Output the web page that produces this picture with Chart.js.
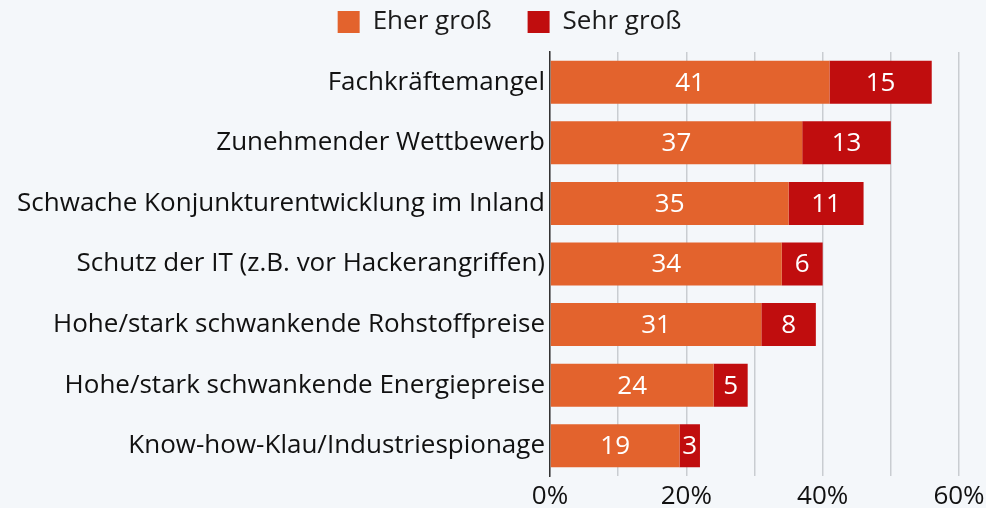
<!DOCTYPE html>
<html>
<head>
<meta charset="utf-8">
<script src="https://cdn.jsdelivr.net/npm/chart.js@4.4.1/dist/chart.umd.min.js"></script>
<style>
  html, body { margin: 0; padding: 0; background: #f4f7fa; }
  #wrap { width: 986px; height: 508px; }
</style>
</head>
<body>
<div id="wrap"><canvas id="chart"></canvas></div>
<script>
// Data
const categories = [
    'Fachkräftemangel',
    'Zunehmender Wettbewerb',
    'Schwache Konjunkturentwicklung im Inland',
    'Schutz der IT (z.B. vor Hackerangriffen)',
    'Hohe/stark schwankende Rohstoffpreise',
    'Hohe/stark schwankende Energiepreise',
    'Know-how-Klau/Industriespionage'
];
const eherGross = [41, 37, 35, 34, 31, 24, 19];
const sehrGross = [15, 13, 11, 6, 8, 5, 3];
const seriesNames = ['Eher groß', 'Sehr groß'];
const tickLabels = ['0%', '', '20%', '', '40%', '', '60%'];

const FONT = "'Open Sans', sans-serif";
const FONT_SIZE = 26;

// white value labels in the middle of each bar segment
const barLabels = {
    id: 'barLabels',
    afterDatasetsDraw(chart) {
        const ctx = chart.ctx;
        ctx.save();
        ctx.fillStyle = '#ffffff';
        ctx.font = FONT_SIZE + 'px ' + FONT;
        ctx.textAlign = 'center';
        ctx.textBaseline = 'middle';
        chart.data.datasets.forEach((ds, i) => {
            const meta = chart.getDatasetMeta(i);
            meta.data.forEach((bar, j) => {
                const x = (bar.x + bar.base) / 2;
                ctx.fillText(String(ds.data[j]), x, bar.y + 1);
            });
        });
        ctx.restore();
    }
};

// the legend gets wide spacing between items but a fixed, short height,
// and sits a bit right of the plain centre
const legendTweak = {
    id: 'legendTweak',
    afterInit(chart) {
        const legend = chart.legend;
        const fit = legend.fit;
        legend.fit = function () {
            fit.call(this);
            this.height = 79;
        };
        const draw = legend.draw;
        legend.draw = function () {
            this.ctx.save();
            this.ctx.translate(30, 0);
            draw.call(this);
            this.ctx.restore();
        };
    }
};

const ctx = document.getElementById('chart').getContext('2d');
new Chart(ctx, {
    type: 'bar',
    data: {
        labels: categories,
        datasets: [{
            label: seriesNames[0],
            data: eherGross,
            backgroundColor: '#e3632d'
        }, {
            label: seriesNames[1],
            data: sehrGross,
            backgroundColor: '#c00d0e'
        }]
    },
    options: {
        indexAxis: 'y',
        responsive: true,
        maintainAspectRatio: false,
        animation: false,
        layout: { padding: { left: 0, right: 27, top: -27, bottom: 0 } },
        datasets: {
            bar: { barPercentage: 0.71, categoryPercentage: 1 }
        },
        plugins: {
            legend: {
                position: 'top',
                labels: {
                    font: { family: FONT, size: FONT_SIZE },
                    color: '#1a1a1a',
                    boxWidth: 22,
                    boxHeight: 22,
                    padding: 36
                }
            },
            tooltip: { enabled: false }
        },
        scales: {
            x: {
                stacked: true,
                min: 0,
                max: 60,
                afterFit: (scale) => {
                    scale.height = 32;
                    scale.paddingLeft = 0;
                    scale.paddingRight = 0;
                },
                ticks: {
                    stepSize: 10,
                    color: '#111111',
                    font: { family: FONT, size: FONT_SIZE },
                    maxRotation: 0,
                    padding: 5,
                    callback: (v, i) => tickLabels[i]
                },
                grid: { color: '#c9cdd1', lineWidth: 1.5, drawTicks: false },
                border: { display: false }
            },
            y: {
                stacked: true,
                afterFit: (scale) => { scale.width = 550; },
                ticks: {
                    color: '#111111',
                    font: { family: FONT, size: FONT_SIZE },
                    padding: 5
                },
                grid: { display: false, drawTicks: false },
                border: { display: true, color: '#333333', width: 1.5 }
            }
        }
    },
    plugins: [barLabels, legendTweak]
});
</script>
</body>
</html>
